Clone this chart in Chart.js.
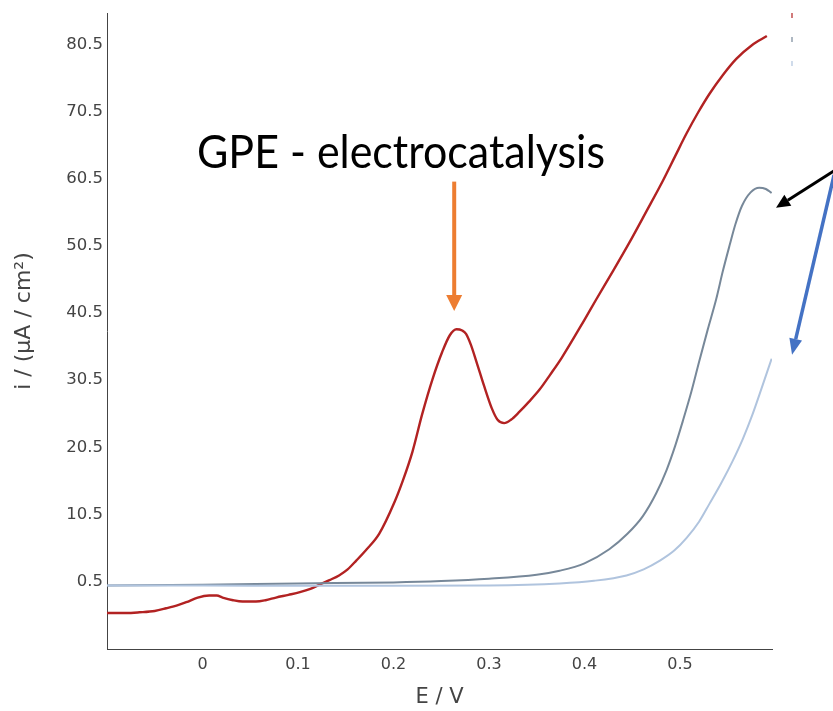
<!DOCTYPE html>
<html>
<head>
<meta charset="utf-8">
<script src="https://cdn.jsdelivr.net/npm/chart.js@4.4.1/dist/chart.umd.min.js"></script>
<style>
  html, body { margin: 0; padding: 0; background: #fff; }
  #wrap { width: 833px; height: 711px; position: relative; }
</style>
</head>
<body>
<div id="wrap"><canvas id="c" width="833" height="711"></canvas></div>
<script>
// ---- data (E / V, i / µA cm^-2) ----
const gpeE = [-0.1,-0.08,-0.066,-0.05,-0.038,-0.025,-0.017,-0.005,0.007,0.015,0.021,0.032,0.042,0.056,0.066,0.077,0.09,0.102,0.113,0.123,0.133,0.143,0.152,0.161,0.172,0.185,0.201,0.21,0.22,0.23,0.241,0.251,0.259,0.266,0.272,0.276,0.281,0.287,0.295,0.303,0.309,0.316,0.323,0.332,0.342,0.353,0.364,0.376,0.4,0.4126,0.43,0.447,0.465,0.482,0.495,0.507,0.519,0.531,0.545,0.559,0.575,0.591];
const gpeI = [-4.2,-4.2,-4.1,-3.9,-3.5,-3.0,-2.6,-1.9,-1.6,-1.6,-1.9,-2.3,-2.5,-2.5,-2.3,-1.9,-1.5,-1.1,-0.6,0.06,0.7,1.4,2.3,3.6,5.3,7.6,12.3,15.6,19.9,25.4,30.7,34.7,37.2,38.1,37.9,37.4,35.8,33.2,29.6,26.3,24.6,24.1,24.6,25.8,27.3,29.1,31.3,33.8,39.5,42.6,46.8,51.0,55.7,60.2,63.9,67.3,70.4,73.2,76.0,78.4,80.4,81.8];

const greyE = [-0.1,0.0,0.1,0.2,0.25,0.3,0.35,0.374,0.4,0.426,0.445,0.461,0.475,0.486,0.495,0.503,0.512,0.52,0.529,0.538,0.545,0.552,0.558,0.565,0.574,0.583,0.59,0.596];
const greyI = [-0.1,0.0,0.2,0.35,0.55,0.9,1.5,2.1,3.2,5.3,7.6,10.2,13.6,17.1,20.7,24.4,28.8,33.2,38.0,42.6,46.8,50.6,53.7,56.5,58.5,59.2,59.0,58.4];

const blueE = [-0.1,0.0,0.1,0.2,0.3,0.374,0.41,0.444,0.462,0.479,0.494,0.507,0.52,0.531,0.543,0.555,0.566,0.576,0.586,0.596];
const blueI = [-0.1,-0.1,-0.15,-0.15,-0.1,0.2,0.6,1.4,2.3,3.6,5.1,7.0,9.4,12.1,15.1,18.4,21.8,25.4,29.5,33.7];

const xTicks = [0, 0.1, 0.2, 0.3, 0.4, 0.5];
const xTickLabels = ['0', '0.1', '0.2', '0.3', '0.4', '0.5'];
const yTicks = [0.5, 10.5, 20.5, 30.5, 40.5, 50.5, 60.5, 70.5, 80.5];
const yTickLabels = ['0.5', '10.5', '20.5', '30.5', '40.5', '50.5', '60.5', '70.5', '80.5'];

const annotationText = 'GPE - electrocatalysis';

const toXY = (xs, ys) => xs.map((x, i) => ({ x: x, y: ys[i] }));

const COL_RED = '#b22222';
const COL_GREY = '#778899';
const COL_BLUE = '#b0c4de';
const FONT = '"DejaVu Sans", Verdana, sans-serif';

// annotation plugin: text, arrows, clipped legend marks
const annot = {
  id: 'annot',
  afterDraw(chart) {
    const ctx = chart.ctx;
    const xs = chart.scales.x, ys = chart.scales.y;
    const P = (e, i) => [xs.getPixelForValue(e), ys.getPixelForValue(i)];

    function arrow(from, to, color, lw, headLen, headW) {
      const [x1, y1] = from, [x2, y2] = to;
      const ang = Math.atan2(y2 - y1, x2 - x1);
      const bx = x2 - headLen * Math.cos(ang), by = y2 - headLen * Math.sin(ang);
      ctx.save();
      ctx.strokeStyle = color; ctx.fillStyle = color; ctx.lineWidth = lw;
      ctx.beginPath(); ctx.moveTo(x1, y1); ctx.lineTo(bx, by); ctx.stroke();
      ctx.beginPath();
      ctx.moveTo(x2, y2);
      ctx.lineTo(bx + headW / 2 * Math.sin(ang), by - headW / 2 * Math.cos(ang));
      ctx.lineTo(bx - headW / 2 * Math.sin(ang), by + headW / 2 * Math.cos(ang));
      ctx.closePath(); ctx.fill();
      ctx.restore();
    }

    // text
    ctx.save();
    ctx.font = '46px Lato, "Open Sans", sans-serif';
    ctx.fillStyle = '#000';
    ctx.textBaseline = 'alphabetic';
    const w = ctx.measureText(annotationText).width;
    const sx = 408 / w;
    ctx.translate(197, 168);
    ctx.scale(sx, 1);
    ctx.fillText(annotationText, 0, 0);
    ctx.restore();

    // y axis title (rotated)
    ctx.save();
    ctx.font = '22px ' + FONT;
    ctx.fillStyle = '#444';
    ctx.textAlign = 'center';
    ctx.textBaseline = 'middle';
    ctx.translate(24, 321);
    ctx.rotate(-Math.PI / 2);
    ctx.fillText('i / (μA / cm²)', 0, 0);
    ctx.restore();

    // arrows (positions in data coordinates)
    arrow(P(0.2636, 60.1), P(0.2636, 40.8), '#ed7d31', 4, 16, 16);
    arrow(P(0.6625, 61.8), P(0.6006, 56.2), '#000000', 3, 14, 13);
    arrow(P(0.6614, 61.1), P(0.6174, 34.3), '#4472c4', 3.5, 16, 13);

    // clipped legend marks at top-right
    const lx = 792;
    [[COL_RED, 13], [COL_GREY, 37], [COL_BLUE, 61]].forEach(([c, y]) => {
      ctx.save(); ctx.strokeStyle = c; ctx.lineWidth = 1.2;
      ctx.beginPath(); ctx.moveTo(lx, y); ctx.lineTo(lx, y + 5); ctx.stroke();
      ctx.restore();
    });
  }
};

new Chart(document.getElementById('c'), {
  type: 'line',
  data: {
    datasets: [
      { label: 'bare', data: toXY(blueE, blueI), borderColor: COL_BLUE, borderWidth: 2, pointRadius: 0, cubicInterpolationMode: 'monotone', fill: false },
      { label: 'modified', data: toXY(greyE, greyI), borderColor: COL_GREY, borderWidth: 2, pointRadius: 0, cubicInterpolationMode: 'monotone', fill: false },
      { label: 'GPE', data: toXY(gpeE, gpeI), borderColor: COL_RED, borderWidth: 2.4, pointRadius: 0, cubicInterpolationMode: 'monotone', fill: false }
    ]
  },
  options: {
    responsive: false,
    animation: false,
    layout: { padding: { top: 10, right: 61, left: 0, bottom: 0 } },
    plugins: { legend: { display: false }, tooltip: { enabled: false } },
    scales: {
      x: {
        type: 'linear',
        min: -0.1, max: 0.5964,
        grid: { display: false, drawTicks: false },
        border: { display: true, color: '#444', width: 1 },
        afterBuildTicks: s => { s.ticks = xTicks.map(v => ({ value: v })); },
        ticks: {
          padding: 6, color: '#444',
          font: { family: FONT, size: 16 },
          callback: (v) => { const k = xTicks.indexOf(v); return k >= 0 ? xTickLabels[k] : ''; },
          maxRotation: 0, autoSkip: false
        },
        title: { display: true, text: 'E / V', color: '#444', font: { family: FONT, size: 21 }, padding: { top: 0, bottom: 1 } },
        afterFit: s => { s.height = 62; }
      },
      y: {
        type: 'linear',
        min: -9.57, max: 85.1,
        grid: { display: false, drawTicks: false },
        border: { display: true, color: '#444', width: 1 },
        afterBuildTicks: s => { s.ticks = yTicks.map(v => ({ value: v })); },
        ticks: {
          padding: 4, color: '#444',
          font: { family: FONT, size: 16.5 },
          callback: (v) => { const k = yTicks.indexOf(v); return k >= 0 ? yTickLabels[k] : ''; },
          autoSkip: false
        },
        title: { display: false },
        afterFit: s => { s.width = 107; }
      }
    }
  },
  plugins: [annot]
});
</script>
</body>
</html>
